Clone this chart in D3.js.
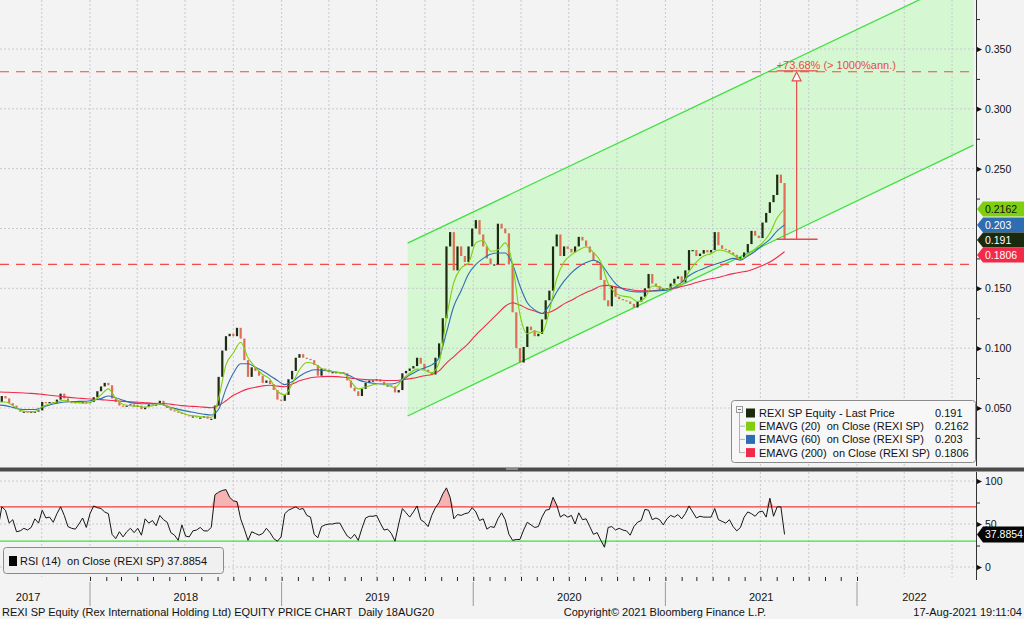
<!DOCTYPE html>
<html><head><meta charset="utf-8">
<script src="https://cdn.jsdelivr.net/npm/d3@7"></script>
<style>
html,body{margin:0;padding:0;background:#f3f3f3;}
svg{display:block;font-family:"Liberation Sans",Arial,sans-serif;}
svg text{white-space:pre;}
</style></head><body>
<svg id="chart" width="1024" height="619"></svg>
<script>
// ---------------- DATA ----------------
const startWeek = "2017-07-10"; // weekly samples
const closePrices = [
0.055,0.060,0.058,0.054,0.052,0.049,0.047,0.047,0.046,0.047,
0.047,0.048,0.055,0.054,0.055,0.054,0.057,0.062,0.058,0.055,
0.054,0.055,0.054,0.055,0.054,0.055,0.059,0.064,0.068,0.071,
0.069,0.058,0.055,0.052,0.051,0.052,0.053,0.051,0.052,0.049,
0.051,0.053,0.052,0.053,0.056,0.052,0.050,0.048,0.047,0.046,
0.045,0.044,0.043,0.043,0.042,0.042,0.043,0.041,0.041,0.052,
0.076,0.098,0.110,0.112,0.110,0.117,0.108,0.090,0.076,0.084,
0.081,0.077,0.071,0.073,0.070,0.065,0.057,0.056,0.061,0.074,
0.081,0.092,0.095,0.092,0.091,0.090,0.086,0.077,0.083,0.082,
0.080,0.080,0.080,0.080,0.079,0.073,0.067,0.064,0.060,0.066,
0.071,0.073,0.073,0.074,0.072,0.069,0.069,0.068,0.063,0.065,
0.079,0.081,0.083,0.085,0.092,0.087,0.082,0.080,0.078,0.092,
0.104,0.125,0.185,0.197,0.165,0.185,0.177,0.172,0.185,0.200,
0.207,0.195,0.185,0.175,0.170,0.170,0.204,0.200,0.196,0.170,
0.130,0.100,0.088,0.101,0.118,0.115,0.110,0.112,0.124,0.140,
0.148,0.185,0.195,0.177,0.185,0.183,0.180,0.185,0.193,0.190,
0.185,0.180,0.173,0.171,0.157,0.140,0.135,0.152,0.143,0.141,
0.140,0.139,0.137,0.134,0.139,0.143,0.150,0.162,0.154,0.152,
0.148,0.150,0.150,0.154,0.158,0.160,0.155,0.165,0.182,0.182,
0.177,0.179,0.182,0.180,0.182,0.197,0.186,0.183,0.182,0.180,
0.178,0.174,0.176,0.180,0.187,0.198,0.194,0.192,0.205,0.213,
0.222,0.228,0.245,0.238,0.191];

// moving averages, sampled every 2 weeks
const ema20 = [
0.055,0.055,0.052,0.048,0.047,0.047,0.051,0.0535,0.055,0.0565,
0.055,0.0545,0.054,0.056,0.061,0.066,0.058,0.053,0.052,0.0515,
0.0505,0.052,0.0535,0.0515,0.049,0.046,0.044,0.0432,0.0425,0.0422,
0.058,0.086,0.096,0.105,0.092,0.084,0.078,0.074,0.064,0.061,
0.070,0.082,0.088,0.087,0.083,0.081,0.080,0.079,0.072,0.066,
0.0675,0.0695,0.0705,0.069,0.0672,0.074,0.079,0.0825,0.0815,0.0795,
0.088,0.125,0.155,0.167,0.171,0.188,0.190,0.181,0.182,0.188,
0.170,0.128,0.112,0.114,0.113,0.131,0.158,0.172,0.178,0.182,
0.1845,0.180,0.172,0.154,0.146,0.1435,0.1425,0.139,0.142,0.152,
0.151,0.149,0.153,0.153,0.164,0.172,0.177,0.179,0.182,0.181,
0.178,0.1745,0.178,0.183,0.188,0.196,0.209,0.2162];
const ema60 = [
0.0525,0.052,0.0505,0.049,0.0488,0.0488,0.0505,0.0525,0.054,0.055,
0.0553,0.0555,0.0557,0.0565,0.058,0.060,0.0585,0.0565,0.0545,0.0537,
0.0535,0.0535,0.0535,0.0514,0.0497,0.0482,0.047,0.0458,0.0448,0.0442,
0.049,0.066,0.079,0.087,0.087,0.084,0.081,0.077,0.073,0.0695,
0.072,0.0765,0.080,0.082,0.0815,0.081,0.080,0.079,0.0765,0.0735,
0.0717,0.0707,0.0702,0.070,0.0705,0.0735,0.0775,0.081,0.0835,0.086,
0.092,0.113,0.135,0.148,0.162,0.170,0.175,0.1785,0.1795,0.1795,
0.170,0.152,0.138,0.132,0.129,0.136,0.147,0.156,0.163,0.168,
0.1715,0.1735,0.1705,0.162,0.154,0.1495,0.1475,0.147,0.147,0.1478,
0.148,0.1485,0.1508,0.155,0.1605,0.164,0.1665,0.169,0.171,0.173,
0.175,0.1735,0.177,0.181,0.186,0.191,0.198,0.203];
const ema200 = [
0.0634,0.0632,0.063,0.0627,0.0623,0.062,0.0614,0.0607,0.060,0.0593,
0.0587,0.0582,0.0577,0.0573,0.057,0.0565,0.056,0.0555,0.0551,0.0548,
0.0544,0.054,0.0537,0.0535,0.0527,0.052,0.0515,0.0512,0.0507,0.0502,
0.052,0.056,0.0606,0.0636,0.066,0.0673,0.0685,0.069,0.0683,0.0677,
0.070,0.0727,0.0745,0.0757,0.0762,0.0764,0.0762,0.0757,0.075,0.0742,
0.0737,0.0735,0.0732,0.073,0.073,0.0736,0.0745,0.0755,0.077,0.078,
0.081,0.0875,0.093,0.0985,0.104,0.111,0.117,0.123,0.129,0.135,
0.138,0.136,0.133,0.131,0.129,0.130,0.133,0.137,0.140,0.1435,
0.1465,0.149,0.152,0.1525,0.151,0.150,0.149,0.148,0.148,0.148,
0.1485,0.149,0.150,0.1515,0.153,0.1548,0.1565,0.158,0.159,0.1608,
0.1623,0.1635,0.1645,0.1665,0.169,0.172,0.176,0.1806];

// RSI (14), weekly samples
const rsi14 = [
45,70,66,51,55,41,42,45,43,46,
56,51,66,57,58,52,62,70,60,47,
45,44,50,57,46,62,71,69,68,64,
62,38,33,41,35,41,45,40,45,37,
56,51,54,48,60,55,52,40,37,31,
49,36,35,42,43,46,42,42,46,84,
87,89,90,81,77,76,56,44,31,41,
39,37,39,45,40,33,30,35,62,66,
68,70,67,68,60,58,38,34,47,49,
50,50,51,51,43,36,33,38,31,45,
57,59,59,60,51,43,44,39,30,50,
68,63,58,64,71,55,52,47,60,69,
75,85,92,81,56,61,60,62,63,69,
64,54,56,44,47,46,56,63,55,38,
31,32,32,43,52,49,46,47,58,66,
67,81,72,58,61,58,60,50,63,55,
56,47,38,40,31,23,46,47,43,45,
43,42,37,47,52,54,67,66,55,57,
55,49,56,60,58,61,56,62,71,64,
57,59,58,58,58,68,55,53,51,55,
47,42,46,58,64,62,59,64,65,58,
80,59,70,70,37.8854];

const priceTicks = [0.05,0.10,0.15,0.20,0.25,0.30,0.35];
const priceMinorTicks = [0.025,0.075,0.125,0.175,0.225,0.275,0.325,0.375];
const rsiTicks = [0,50,100];
const rsiMinorTicks = [25,75];
const rsiBands = [70,30];
const yearLabels = ["2017","2018","2019","2020","2021","2022"];
const levelLines = [0.331, 0.17];
const channelDates = ["2019-08-29","2022-08-11"];
const channelUpper = [0.1878, 0.4126];
const channelLower = [0.0433, 0.2697];
const moveDate = "2021-09-08";
const moveSegDates = ["2021-08-01","2021-10-18"];
const moveFrom = 0.191, moveTo = 0.3317;
const moveLabel = "+73.68% (> 1000%ann.)";
const legendNames = ["REXI SP Equity - Last Price","EMAVG (20)  on Close (REXI SP)","EMAVG (60)  on Close (REXI SP)","EMAVG (200)  on Close (REXI SP)"];
const legendValues = [0.191, 0.2162, 0.203, 0.1806];
const legendLabels = ["0.191","0.2162","0.203","0.1806"];
const seriesColors = ["#1b2a0c","#7fcf10","#2f6db2","#f22a4a"];
const tagOrder = [1,2,0,3];
const rsiLegend = "RSI (14)  on Close (REXI SP) 37.8854";
const rsiLast = "37.8854";
const footerLeft = "REXI SP Equity (Rex International Holding Ltd) EQUITY PRICE CHART  Daily 18AUG20";
const footerMid = "Copyright\u00A9 2021 Bloomberg Finance L.P.";
const footerRight = "17-Aug-2021 19:11:04";

// ---------------- SETUP ----------------
const parse = d3.timeParse("%Y-%m-%d");
const start = parse(startWeek);
const weekDates = closePrices.map((_, i) => d3.timeDay.offset(start, 7 * i));
const emaDates = ema20.map((_, k) => weekDates[2 * k]);
const candles = closePrices.map((c, i) => ({date: weekDates[i], open: i ? closePrices[i - 1] : c, close: c}));

const axisX = 976, mainBottom = 466, rsiTop = 472, rsiBottom = 577;
const x = d3.scaleTime().domain([parse("2018-01-01"), parse("2022-01-01")]).range([90, 857]);
const y = d3.scaleLinear().domain([0.05, 0.35]).range([408, 49]);
const yR = d3.scaleLinear().domain([0, 100]).range([567, 481]);

const svg = d3.select("#chart");
svg.append("rect").attr("width", 1024).attr("height", 619).attr("fill", "#f3f3f3");
const defs = svg.append("defs");
defs.append("clipPath").attr("id", "clipMain").append("rect").attr("x", 0).attr("y", 0).attr("width", axisX).attr("height", mainBottom);
defs.append("clipPath").attr("id", "clipRsi").append("rect").attr("x", 0).attr("y", rsiTop).attr("width", axisX).attr("height", rsiBottom - rsiTop);

const gMain = svg.append("g").attr("clip-path", "url(#clipMain)");
const gRsi = svg.append("g").attr("clip-path", "url(#clipRsi)");

// channel
const chPts = [[x(parse(channelDates[0])), y(channelUpper[0])], [x(parse(channelDates[1])), y(channelUpper[1])],
               [x(parse(channelDates[1])), y(channelLower[1])], [x(parse(channelDates[0])), y(channelLower[0])]];
gMain.append("path").attr("d", d3.line()(chPts) + "Z").attr("fill", "#d5f7d1");

// grid
const quarters = d3.timeMonth.every(3).range(parse("2017-07-01"), parse("2022-12-01")).filter(d => x(d) > 0 && x(d) < axisX);
[gMain, gRsi].forEach((g, k) => {
  g.selectAll(null).data(quarters).join("line")
    .attr("x1", d => x(d)).attr("x2", d => x(d))
    .attr("y1", k ? rsiTop : 0).attr("y2", k ? rsiBottom : mainBottom)
    .attr("stroke", "#c9c9d2").attr("stroke-dasharray", "2,2");
});
gMain.selectAll(null).data(priceTicks).join("line")
  .attr("x1", 0).attr("x2", axisX).attr("y1", d => y(d)).attr("y2", d => y(d))
  .attr("stroke", "#c9c9d2").attr("stroke-dasharray", "2,2");
gRsi.selectAll(null).data(rsiTicks).join("line")
  .attr("x1", 0).attr("x2", axisX).attr("y1", d => yR(d)).attr("y2", d => yR(d))
  .attr("stroke", "#c9c9d2").attr("stroke-dasharray", "2,2");

// channel edges
[channelUpper, channelLower].forEach(arr => {
  gMain.append("line")
    .attr("x1", x(parse(channelDates[0]))).attr("y1", y(arr[0]))
    .attr("x2", x(parse(channelDates[1]))).attr("y2", y(arr[1]))
    .attr("stroke", "#3fe03f").attr("stroke-width", 1.3);
});

// level lines
gMain.selectAll(null).data(levelLines).join("line")
  .attr("x1", 0).attr("x2", axisX).attr("y1", d => y(d)).attr("y2", d => y(d))
  .attr("stroke", "#f74848").attr("stroke-width", 1.2).attr("stroke-dasharray", "9,7");

// candles
const cw = 2.2;
gMain.selectAll(null).data(candles).join("rect")
  .attr("x", d => x(d.date) - cw / 2).attr("width", cw)
  .attr("y", d => y(Math.max(d.open, d.close)))
  .attr("height", d => Math.max(1.2, Math.abs(y(d.open) - y(d.close))))
  .attr("fill", d => d.close >= d.open ? "#1d2c10" : "#de6e56");

// EMA lines
const emaLine = d3.line().x((d, i) => x(emaDates[i])).y(d => y(d)).curve(d3.curveMonotoneX);
[[ema200, seriesColors[3]], [ema60, seriesColors[2]], [ema20, seriesColors[1]]].forEach(([arr, col]) => {
  gMain.append("path").attr("d", emaLine(arr)).attr("fill", "none").attr("stroke", col).attr("stroke-width", 1.1);
});

// measurement annotation
const ann = "#e84a4a";
const mx = x(parse(moveDate));
gMain.append("line").attr("x1", mx).attr("x2", mx).attr("y1", y(moveFrom)).attr("y2", y(moveTo) + 9)
  .attr("stroke", ann).attr("stroke-width", 1.2);
gMain.append("path").attr("d", `M${mx},${y(moveTo) + 1}L${mx - 4.5},${y(moveTo) + 10}L${mx + 4.5},${y(moveTo) + 10}Z`)
  .attr("fill", "#fff").attr("stroke", ann).attr("stroke-width", 1.1);
[moveFrom, moveTo].forEach(v => {
  gMain.append("line").attr("x1", x(parse(moveSegDates[0]))).attr("x2", x(parse(moveSegDates[1])))
    .attr("y1", y(v)).attr("y2", y(v)).attr("stroke", ann).attr("stroke-width", 1.3);
});
gMain.append("text").attr("x", x(parse(moveSegDates[0]))).attr("y", y(moveTo) - 2)
  .attr("font-size", 11).attr("fill", ann).text(moveLabel);

// RSI bands + fills
const rsiPts = rsi14.map((v, i) => ({date: weekDates[i], v}));
gRsi.append("path").attr("d", d3.area().x(d => x(d.date)).y0(yR(70)).y1(d => yR(Math.max(70, d.v)))(rsiPts)).attr("fill", "#f6b3b3");
gRsi.append("path").attr("d", d3.area().x(d => x(d.date)).y0(yR(30)).y1(d => yR(Math.min(30, d.v)))(rsiPts)).attr("fill", "#b6f0b6");
gRsi.selectAll(null).data(rsiBands).join("line")
  .attr("x1", 0).attr("x2", axisX).attr("y1", d => yR(d)).attr("y2", d => yR(d))
  .attr("stroke", d => d === 70 ? "#f03c3c" : "#3fe03f").attr("stroke-width", 1.3);
gRsi.append("path").attr("d", d3.line().x(d => x(d.date)).y(d => yR(d.v))(rsiPts))
  .attr("fill", "none").attr("stroke", "#161616").attr("stroke-width", 1);

// panel divider
svg.append("rect").attr("x", 0).attr("y", 467.5).attr("width", 1024).attr("height", 4).attr("fill", "#4b4b4b");
svg.append("rect").attr("x", 506).attr("y", 468).attr("width", 12).attr("height", 2).attr("fill", "#8a8a8a");

// last value tag positions (resolve overlaps)
const tagY = [];
tagOrder.forEach((s, k) => {
  let yy = y(legendValues[s]);
  if (k > 0) yy = Math.max(yy, tagY[k - 1] + 15);
  tagY.push(yy);
});
const tagTop = tagY[0] - 7.5, tagBottom = tagY[tagY.length - 1] + 7.5;

// right axes
function styleAxis(g) {
  g.select(".domain").remove();
  g.selectAll(".tick line").remove();
  g.selectAll(".tick").append("path").attr("d", "M0,-3L6,0L0,3Z").attr("fill", "#111");
  g.selectAll(".tick text").attr("fill", "#111").attr("font-size", 10.5).attr("font-family", "Liberation Sans, Arial, sans-serif");
}
const priceLabelTicks = priceTicks.filter(v => y(v) < tagTop - 4 || y(v) > tagBottom + 4);
const gAxisP = svg.append("g").attr("transform", `translate(${axisX},0)`)
  .call(d3.axisRight(y).tickValues(priceLabelTicks).tickFormat(d3.format(".3f")).tickSize(6).tickPadding(3));
styleAxis(gAxisP);
svg.append("g").attr("transform", `translate(${axisX},0)`)
  .call(d3.axisRight(y).tickValues(priceMinorTicks).tickFormat("").tickSize(4))
  .call(g => g.select(".domain").remove()).selectAll("line").attr("stroke", "#111");
const gAxisR = svg.append("g").attr("transform", `translate(${axisX},0)`)
  .call(d3.axisRight(yR).tickValues(rsiTicks).tickFormat(d3.format("d")).tickSize(6).tickPadding(3));
styleAxis(gAxisR);
svg.append("g").attr("transform", `translate(${axisX},0)`)
  .call(d3.axisRight(yR).tickValues(rsiMinorTicks).tickFormat("").tickSize(4))
  .call(g => g.select(".domain").remove()).selectAll("line").attr("stroke", "#111");
svg.append("line").attr("x1", axisX + 0.5).attr("x2", axisX + 0.5).attr("y1", 0).attr("y2", mainBottom).attr("stroke", "#333");
svg.append("line").attr("x1", axisX + 0.5).attr("x2", axisX + 0.5).attr("y1", rsiTop).attr("y2", rsiBottom + 3).attr("stroke", "#333");

// last value tags
tagOrder.forEach((s, k) => {
  const yc = tagY[k];
  svg.append("path").attr("d", `M${axisX + 1},${yc}L${axisX + 7},${yc - 7.5}L1024,${yc - 7.5}L1024,${yc + 7.5}L${axisX + 7},${yc + 7.5}Z`)
    .attr("fill", seriesColors[s]);
  svg.append("text").attr("x", axisX + 9).attr("y", yc + 4).attr("font-size", 10.5)
    .attr("fill", s === 1 ? "#111" : "#fff").text(legendLabels[s]);
});
{
  const yc = yR(rsi14[rsi14.length - 1]);
  svg.append("path").attr("d", `M${axisX + 1},${yc}L${axisX + 7},${yc - 8}L1024,${yc - 8}L1024,${yc + 8}L${axisX + 7},${yc + 8}Z`).attr("fill", "#050505");
  svg.append("text").attr("x", axisX + 9).attr("y", yc + 4).attr("font-size", 10.5).attr("fill", "#fff").text(rsiLast);
}

// main legend
const lg = svg.append("g");
lg.append("rect").attr("x", 731.5).attr("y", 400.5).attr("width", 244).attr("height", 62).attr("rx", 3)
  .attr("fill", "#f7f7f7").attr("stroke", "#8a8a8a");
lg.append("rect").attr("x", 736.5).attr("y", 406.5).attr("width", 6).attr("height", 6).attr("fill", "none").attr("stroke", "#9a9a9a");
lg.append("line").attr("x1", 738).attr("x2", 741).attr("y1", 409.5).attr("y2", 409.5).attr("stroke", "#777");
lg.append("line").attr("x1", 739.5).attr("x2", 739.5).attr("y1", 413).attr("y2", 453).attr("stroke", "#b0b0b0");
legendNames.forEach((n, i) => {
  const cy = 413 + i * 13.2;
  if (i > 0) lg.append("line").attr("x1", 739.5).attr("x2", 745).attr("y1", cy).attr("y2", cy).attr("stroke", "#b0b0b0");
  lg.append("rect").attr("x", 746).attr("y", cy - 4.5).attr("width", 9).attr("height", 9).attr("fill", seriesColors[i]);
  lg.append("text").attr("x", 759).attr("y", cy + 4).attr("font-size", 11).attr("fill", "#111").text(n);
  lg.append("text").attr("x", 935).attr("y", cy + 4).attr("font-size", 11).attr("fill", "#111").text(legendLabels[i]);
});

// rsi legend
svg.append("rect").attr("x", 3.5).attr("y", 547.5).attr("width", 220).attr("height", 26).attr("rx", 3)
  .attr("fill", "#f0f0f0").attr("stroke", "#8a8a8a");
svg.append("rect").attr("x", 9).attr("y", 556).attr("width", 8).attr("height", 10).attr("fill", "#050505");
svg.append("text").attr("x", 20).attr("y", 565).attr("font-size", 11).attr("fill", "#111").text(rsiLegend);

// bottom time axis
svg.append("g").attr("transform", `translate(0,${rsiBottom})`)
  .call(d3.axisBottom(x).ticks(d3.timeMonth.every(1)).tickFormat("").tickSize(4))
  .call(g => g.select(".domain").remove())
  .selectAll(".tick").filter(d => x(d) < 0 || x(d) > axisX).remove();
svg.selectAll(".tick line").attr("stroke", "#222");
const yearStarts = yearLabels.map(t => parse(t + "-01-01"));
svg.selectAll(null).data(yearStarts.slice(1)).join("line")
  .attr("x1", d => x(d)).attr("x2", d => x(d)).attr("y1", 582).attr("y2", 606).attr("stroke", "#9a9a9a");
const axisLeftEdge = x(d3.timeMonth.offset(start, -2));
svg.selectAll(null).data(yearLabels).join("text")
  .attr("x", (t, i) => {
    const a = Math.max(axisLeftEdge, x(yearStarts[i]));
    const b = Math.min(axisX - 4, x(d3.timeYear.offset(yearStarts[i], 1)));
    return (a + b) / 2;
  })
  .attr("y", 601).attr("text-anchor", "middle").attr("font-size", 11).attr("fill", "#111").text(t => t);

// footer
svg.append("text").attr("x", 2).attr("y", 616).attr("font-size", 11).attr("fill", "#111").text(footerLeft);
svg.append("text").attr("x", 665).attr("y", 616).attr("text-anchor", "middle").attr("font-size", 11).attr("fill", "#111").text(footerMid);
svg.append("text").attr("x", 1022).attr("y", 616).attr("text-anchor", "end").attr("font-size", 11).attr("fill", "#111").text(footerRight);
</script>
</body></html>
